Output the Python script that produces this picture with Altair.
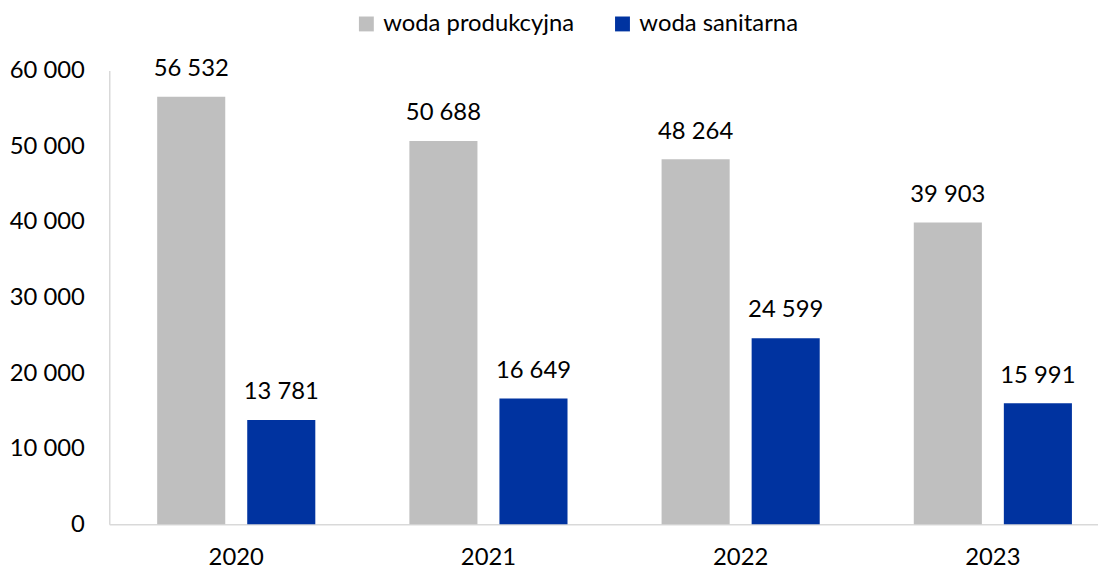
import altair as alt
import pandas as pd

years = ["2020", "2021", "2022", "2023"]
series = ["woda produkcyjna", "woda sanitarna"]
produkcyjna = [56532, 50688, 48264, 39903]
sanitarna = [13781, 16649, 24599, 15991]
colors = ["#BFBFBF", "#0033A0"]

rows = []
for i, y in enumerate(years):
    rows.append({"rok": y, "seria": series[0], "v": produkcyjna[i]})
    rows.append({"rok": y, "seria": series[1], "v": sanitarna[i]})
df = pd.DataFrame(rows)

FONT = "Lato"
FS = 24

x = alt.X("rok:N", sort=years, title=None,
          scale=alt.Scale(paddingInner=0.373, paddingOuter=0.19, range=[0, 1018]),
          axis=alt.Axis(labelAngle=0, labelFont=FONT, labelFontSize=FS, labelColor="#000000",
                        domainColor="#D9D9D9", domainWidth=1.5, ticks=False, labelPadding=22))
xo = alt.XOffset("seria:N", sort=series, scale=alt.Scale(paddingInner=0.244, paddingOuter=0))
y = alt.Y("v:Q", title=None,
          scale=alt.Scale(domain=[0, 60000]),
          axis=alt.Axis(values=[0, 10000, 20000, 30000, 40000, 50000, 60000], grid=False, ticks=False,
                        labelFont=FONT, labelFontSize=FS, labelColor="#000000", labelPadding=25,
                        domainColor="#D9D9D9", domainWidth=1.5,
                        labelExpr="replace(format(datum.value, ','), ',', ' ')"))

base = alt.Chart(df).encode(x=x, xOffset=xo, y=y)

bars = base.mark_bar().encode(
    color=alt.Color("seria:N", sort=series, scale=alt.Scale(domain=series, range=colors),
                    legend=alt.Legend(title=None, orient="none", legendX=247, legendY=-59,
                                      direction="horizontal", symbolType="square", symbolSize=225,
                                      symbolStrokeWidth=0, labelFont=FONT, labelFontSize=FS,
                                      labelColor="#000000", columnPadding=36, labelOffset=5,
                                      labelLimit=400))
)

labels = base.transform_calculate(
    lab="replace(format(datum.v, ','), ',', ' ')"
).mark_text(baseline="bottom", dy=-16, font=FONT, fontSize=FS, color="#000000").encode(
    text="lab:N"
)

chart = alt.layer(bars, labels).properties(
    width=996, height=457,
    autosize=alt.AutoSizeParams(type="none"),
    padding={"left": 102, "top": 61, "right": 0, "bottom": 46},
).configure_view(stroke=None)

chart.save("out.html", embed_options={"renderer": "svg", "actions": False})
